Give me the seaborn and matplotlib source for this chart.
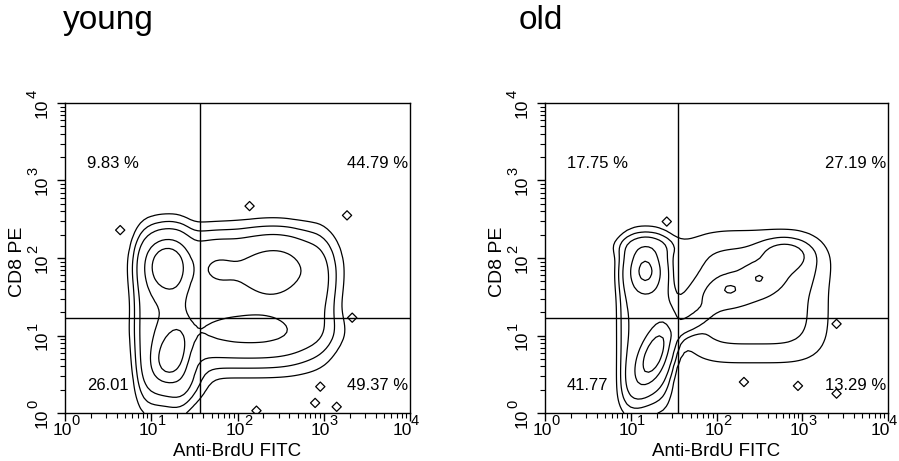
import numpy as np
import matplotlib
matplotlib.use("Agg")
import matplotlib.pyplot as plt
import seaborn as sns
from matplotlib.ticker import LogLocator, FixedLocator, NullFormatter
from matplotlib.transforms import blended_transform_factory, ScaledTranslation

# ---------------- data (log10 units) ----------------
panel_titles = ["young", "old"]
x_label = "Anti-BrdU FITC"
y_label = "CD8 PE"
x_gate = [37, 36]
y_gate = [17, 17]
tick_values = [1, 10, 100, 1000, 10000]
tick_base = "10"
tick_exps = ["0", "1", "2", "3", "4"]

# quadrant percentages: UL, UR, LL, LR
young_pct = ["9.83 %", "44.79 %", "26.01", "49.37 %"]
old_pct = ["17.75 %", "27.19 %", "41.77", "13.29 %"]

# population components: log10 centre, spread, correlation, shape exponent, weight
young_cx = [1.98, 1.13, 1.17, 1.22, 2.45, 2.15, 1.75, 2.95, 1.40]
young_cy = [1.45, 1.20, 1.92, 0.72, 1.88, 1.05, 1.90, 1.60, 0.40]
young_sx = [0.84, 0.25, 0.17, 0.15, 0.33, 0.50, 0.18, 0.12, 0.15]
young_sy = [0.72, 0.93, 0.24, 0.23, 0.28, 0.17, 0.22, 0.40, 0.20]
young_rho = [0.0, 0.0, 0.0, 0.3, 0.0, 0.0, 0.0, 0.0, 0.0]
young_pow = [4, 4, 2, 2, 2, 2, 2, 2, 2]
young_w = [0.25, 0.20, 0.45, 0.42, 0.25, 0.21, 0.12, 0.10, 0.12]

old_cx = [2.45, 1.17, 1.27, 1.17, 2.25, 2.80, 1.70, 2.15, 2.50, 1.20]
old_cy = [1.50, 1.15, 0.75, 1.85, 1.60, 2.05, 1.15, 1.60, 1.75, 2.15]
old_sx = [0.70, 0.25, 0.16, 0.14, 0.45, 0.18, 0.15, 0.10, 0.10, 0.25]
old_sy = [0.70, 0.86, 0.30, 0.22, 0.22, 0.12, 0.12, 0.08, 0.10, 0.10]
old_rho = [0.0, 0.0, 0.6, 0.0, 0.6, 0.0, 0.7, 0.0, 0.0, 0.0]
old_pow = [4, 4, 2, 2, 2, 2, 2, 2, 2, 2]
old_w = [0.12, 0.20, 0.50, 0.45, 0.12, 0.16, 0.15, 0.16, 0.16, 0.10]

contour_levels = [0.04, 0.09, 0.17, 0.36, 0.55]

# isolated events (log10 x, log10 y)
young_out_x = [0.64, 2.14, 3.27, 3.33, 2.96, 2.90, 3.15, 2.22]
young_out_y = [2.36, 2.67, 2.55, 1.23, 0.34, 0.13, 0.08, 0.03]
old_out_x = [1.42, 2.32, 2.95, 3.40, 3.40]
old_out_y = [2.47, 0.40, 0.35, 1.15, 0.25]

panels = [
    dict(cx=young_cx, cy=young_cy, sx=young_sx, sy=young_sy, rho=young_rho, pw=young_pow,
         w=young_w, pct=young_pct, ox=young_out_x, oy=young_out_y),
    dict(cx=old_cx, cy=old_cy, sx=old_sx, sy=old_sy, rho=old_rho, pw=old_pow,
         w=old_w, pct=old_pct, ox=old_out_x, oy=old_out_y),
]

# ---------------- style ----------------
sns.set_theme(style="ticks")
plt.rcParams["font.family"] = ["Liberation Sans", "DejaVu Sans"]
for k in ["text.color", "axes.labelcolor", "xtick.color", "ytick.color", "axes.edgecolor"]:
    plt.rcParams[k] = "black"

W, H = 899, 461
fig = plt.figure(figsize=(W / 100, H / 100), dpi=100)
axes_px = [(65, 103, 345, 310), (545, 103, 343, 310)]
title_px = [(63, 29), (519, 29)]
xlab_shift = [-2.5, -2.5, -2.5, -3, -8]   # px horizontal nudge of the x tick labels

g = np.linspace(0, 4, 97)
GX, GY = np.meshgrid(g, g)

for i, (p, (l, t, w, h)) in enumerate(zip(panels, axes_px)):
    ax = fig.add_axes([l / W, 1 - (t + h) / H, w / W, h / H])
    Z = np.zeros_like(GX)
    for cx, cy, sx, sy, r, pw, wt in zip(p["cx"], p["cy"], p["sx"], p["sy"], p["rho"],
                                         p["pw"], p["w"]):
        dx = (GX - cx) / sx
        dy = (GY - cy) / sy
        if pw == 2:
            q = (dx**2 - 2 * r * dx * dy + dy**2) / (1 - r**2)
        else:
            q = np.abs(dx) ** pw + np.abs(dy) ** pw
        Z += wt * np.exp(-0.5 * q)
    ax.contour(10**GX, 10**GY, Z, levels=contour_levels, colors="black", linewidths=0.9)
    ax.scatter(10**np.array(p["ox"]), 10**np.array(p["oy"]), marker="D", s=22,
               facecolors="none", edgecolors="black", linewidths=0.9, zorder=3)
    ax.set_xscale("log")
    ax.set_yscale("log")
    ax.set_xlim(1, 1e4)
    ax.set_ylim(1, 1e4)
    ax.axvline(x_gate[i], color="black", lw=1.0)
    ax.axhline(y_gate[i], color="black", lw=1.0)
    for s in ax.spines.values():
        s.set_color("black")
        s.set_linewidth(1.0)
    ax.xaxis.set_major_locator(FixedLocator(tick_values))
    ax.yaxis.set_major_locator(FixedLocator(tick_values))
    ax.xaxis.set_minor_locator(LogLocator(base=10, subs=np.arange(2, 10), numticks=20))
    ax.yaxis.set_minor_locator(LogLocator(base=10, subs=np.arange(2, 10), numticks=20))
    for axis in (ax.xaxis, ax.yaxis):
        axis.set_major_formatter(NullFormatter())
        axis.set_minor_formatter(NullFormatter())
    ax.tick_params(which="major", length=6, width=1, color="black")
    ax.tick_params(which="minor", length=3.5, width=0.8, color="black")

    # tick labels "10" with raised exponent
    tx = blended_transform_factory(ax.transData, ax.transAxes)
    ty = blended_transform_factory(ax.transAxes, ax.transData)
    for v, e, sh in zip(tick_values, tick_exps, xlab_shift):
        ax.text(v, 0, tick_base, transform=tx + ScaledTranslation(sh / 100, -17 / 100, fig.dpi_scale_trans),
                fontsize=12.5, ha="center", va="center", clip_on=False)
        ax.text(v, 0, e, transform=tx + ScaledTranslation((sh + 13) / 100, -8 / 100, fig.dpi_scale_trans),
                fontsize=10.5, ha="center", va="center", clip_on=False)
        ax.text(0, v, tick_base, transform=ty + ScaledTranslation(-23 / 100, -5 / 100, fig.dpi_scale_trans),
                fontsize=12.5, ha="center", va="center", rotation=90, clip_on=False)
        ax.text(0, v, e, transform=ty + ScaledTranslation(-32 / 100, 9.5 / 100, fig.dpi_scale_trans),
                fontsize=10.5, ha="center", va="center", rotation=90, clip_on=False)

    # axis labels
    fig.text((l + w / 2) / W, 1 - 456 / H, x_label, fontsize=13.5, ha="center", va="baseline")
    fig.text((l - 48) / W, 1 - (t + 159) / H, y_label, fontsize=14, ha="center", va="center",
             rotation=90)

    # percentages
    ax.text(1.8, 10**3.22, p["pct"][0], fontsize=12, va="center", ha="left")
    ax.text(10**3.98, 10**3.22, p["pct"][1], fontsize=12, va="center", ha="right")
    ax.text(1.8, 10**0.35, p["pct"][2], fontsize=12, va="center", ha="left")
    ax.text(10**3.98, 10**0.35, p["pct"][3], fontsize=12, va="center", ha="right")

    tx0, ty0 = title_px[i]
    fig.text(tx0 / W, 1 - ty0 / H, panel_titles[i], fontsize=24, va="baseline", ha="left")

fig.savefig("out.png", dpi=100, facecolor="white")
